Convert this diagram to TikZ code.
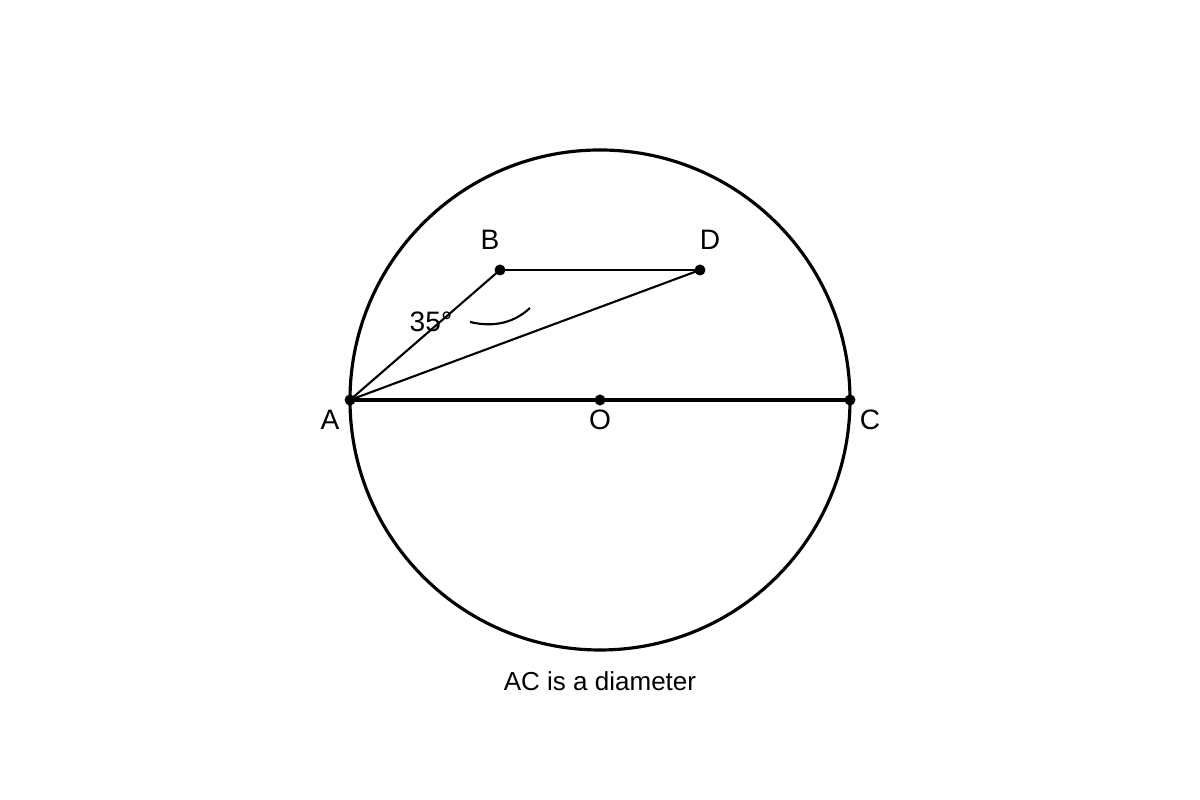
\documentclass[tikz,border=0pt]{standalone}
\usepackage{fontspec}
\setmainfont{Liberation Sans}

\begin{document}
\begin{tikzpicture}[line width=0.6pt,-]
  \tikzstyle{dot}=[circle,fill=black,minimum size=0.11cm,inner sep=0pt]
  \tikzstyle{lbl}=[font=\fontsize{8}{9}\selectfont,inner sep=0pt]
  \useasboundingbox (0,0) rectangle (12,8);

  \foreach \name/\x/\y in {A/3.5/4, O/6/4, C/8.5/4, B/5/5.3, D/7/5.3}
    \node[dot] (P-\name) at (\x,\y) {};

  \foreach \name/\x/\y in {A/3.3/3.8, O/6/3.8, C/8.7/3.8, B/4.9/5.6, D/7.1/5.6}
    \node[lbl] (L-\name) at (\x,\y) {\name};

  \draw[line width=0.9pt] (P-O) circle (2.5cm);
  \draw[line width=0.9pt] (P-A.center) -- (P-C.center);

  \foreach \from/\to in {A/B,B/D,A/D}
    \draw (P-\from.center) -- (P-\to.center);

  \node[lbl] (ang) at (4.31,4.78) {35°};
  \draw (4.7,4.78) .. controls (4.95,4.72) and (5.15,4.78) .. (5.3,4.92);

  \node[lbl,font=\fontsize{7.4}{9}\selectfont] (caption) at (6,1.19) {AC is a diameter};
\end{tikzpicture}
\end{document}
